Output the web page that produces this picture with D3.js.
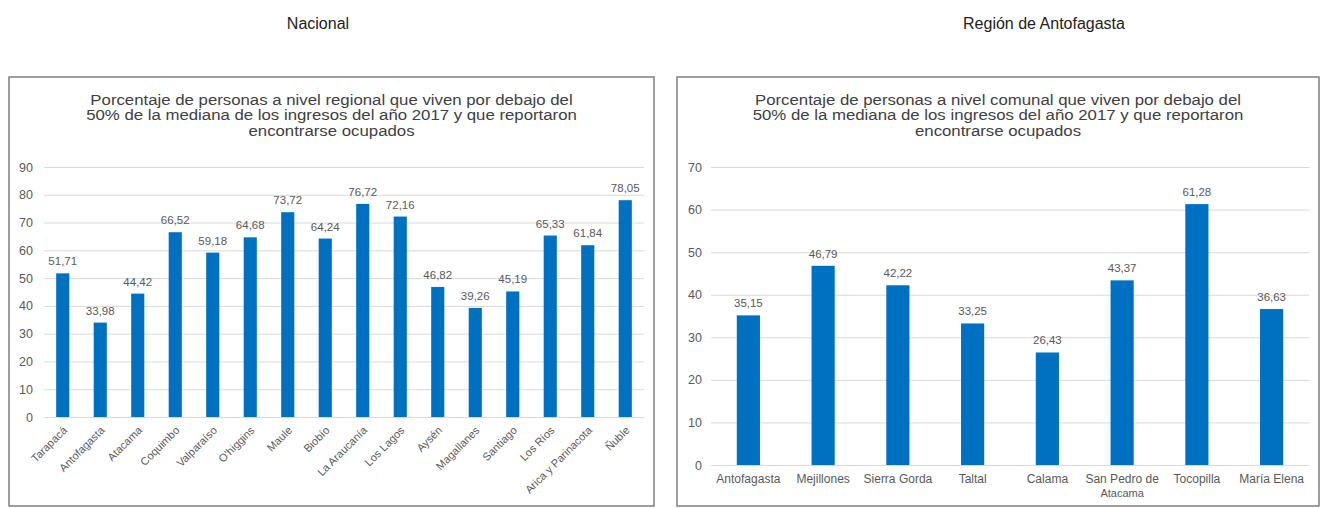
<!DOCTYPE html>
<html>
<head>
<meta charset="utf-8">
<script src="https://cdn.jsdelivr.net/npm/d3@7"></script>
<style>
  body { margin: 0; background: #fff; font-family: "Liberation Sans", Arial, sans-serif; }
  svg { display: block; }
</style>
</head>
<body>
<svg id="chart" width="1322" height="508"></svg>
<script>
// ---- Data ----
const regions = ["Tarapacá","Antofagasta","Atacama","Coquimbo","Valparaíso","O'higgins","Maule","Biobío","La Araucanía","Los Lagos","Aysén","Magallanes","Santiago","Los Ríos","Arica y Parinacota","Ñuble"];
const regionValues = [51.71,33.98,44.42,66.52,59.18,64.68,73.72,64.24,76.72,72.16,46.82,39.26,45.19,65.33,61.84,78.05];
const regionTicks = [0,10,20,30,40,50,60,70,80,90];

const comunas = ["Antofagasta","Mejillones","Sierra Gorda","Taltal","Calama","San Pedro de Atacama","Tocopilla","María Elena"];
const comunaValues = [35.15,46.79,42.22,33.25,26.43,43.37,61.28,36.63];
const comunaTicks = [0,10,20,30,40,50,60,70];

const headings = ["Nacional","Región de Antofagasta"];
const titleRegional = ["Porcentaje de personas a nivel regional que viven por debajo del","50% de la mediana de los ingresos del año 2017 y que reportaron","encontrarse ocupados"];
const titleComunal = ["Porcentaje de personas a nivel comunal que viven por debajo del","50% de la mediana de los ingresos del año 2017 y que reportaron","encontrarse ocupados"];

// ---- Drawing ----
const svg = d3.select("#chart");
const fmt = v => v.toFixed(2).replace(".", ",");
const BAR = "#0070C0", GRID = "#d9d9d9", TXT = "#595959";

svg.append("text").attr("x", 318).attr("y", 29).attr("text-anchor","middle")
  .attr("font-size", 16).attr("fill", "#222").text(headings[0]);
svg.append("text").attr("x", 1044).attr("y", 29).attr("text-anchor","middle")
  .attr("font-size", 16).attr("fill", "#222").text(headings[1]);

function panel(cfg) {
  const g = svg.append("g");
  g.append("rect").attr("x", cfg.box[0]).attr("y", cfg.box[1])
    .attr("width", cfg.box[2]).attr("height", cfg.box[3])
    .attr("fill", "#fff").attr("stroke", "#7f7f7f").attr("stroke-width", 1.5);

  const tcx = cfg.box[0] + cfg.box[2] / 2;
  const tg = g.append("g").attr("transform", `translate(${tcx},0) scale(1.12,1)`);
  cfg.title.forEach((t, i) => {
    tg.append("text").attr("x", 0).attr("y", 105 + i * 15.5).attr("text-anchor", "middle")
      .attr("font-size", 15).attr("fill", "#404040").text(t);
  });

  const x = d3.scaleBand().domain(cfg.cats).range(cfg.xr).paddingInner(cfg.pad).paddingOuter(cfg.pad / 2);
  const y = d3.scaleLinear().domain([0, d3.max(cfg.ticks)]).range(cfg.yr);

  const yAxis = d3.axisLeft(y).tickValues(cfg.ticks).tickSize(-(cfg.xr[1] - cfg.xr[0])).tickPadding(cfg.tickPad);
  const ya = g.append("g").attr("transform", `translate(${cfg.xr[0]},0)`).call(yAxis);
  ya.select(".domain").remove();
  ya.selectAll(".tick line").attr("stroke", GRID).attr("stroke-width", 1);
  ya.selectAll(".tick text").attr("fill", TXT).attr("font-size", 12.5).attr("font-family", "Liberation Sans, Arial, sans-serif");

  g.selectAll(".bar").data(cfg.vals).enter().append("rect")
    .attr("x", (d, i) => x(cfg.cats[i]))
    .attr("y", d => y(d))
    .attr("width", x.bandwidth())
    .attr("height", d => y(0) - y(d))
    .attr("fill", BAR);

  g.selectAll(".lbl").data(cfg.vals).enter().append("text")
    .attr("x", (d, i) => x(cfg.cats[i]) + x.bandwidth() / 2)
    .attr("y", d => y(d) - 8)
    .attr("text-anchor", "middle").attr("font-size", 11.5).attr("fill", TXT)
    .text(fmt);

  const xAxis = d3.axisBottom(x).tickSize(0).tickPadding(0);
  const xa = g.append("g").attr("transform", `translate(0,${cfg.yr[0]})`).call(xAxis);
  xa.select(".domain").attr("stroke", GRID);
  xa.selectAll(".tick text").attr("fill", TXT).attr("font-family", "Liberation Sans, Arial, sans-serif");
  cfg.xLabel(xa);
}

panel({
  box: [9, 77, 645, 429],
  title: titleRegional,
  cats: regions, vals: regionValues, ticks: regionTicks,
  xr: [44, 644], yr: [417, 167], pad: 0.65, tickPad: 11,
  xLabel: xa => {
    xa.selectAll(".tick text")
      .attr("font-size", 11)
      .attr("text-anchor", "end")
      .attr("dy", 0)
      .attr("transform", "translate(5,14) rotate(-45)");
  }
});

panel({
  box: [677, 77, 642, 429],
  title: titleComunal,
  cats: comunas, vals: comunaValues, ticks: comunaTicks,
  xr: [711, 1309], yr: [465, 167], pad: 0.69, tickPad: 9,
  xLabel: xa => {
    xa.selectAll(".tick text")
      .attr("font-size", 12)
      .attr("y", 18)
      .attr("dy", 0)
      .each(function(d) {
        const t = d3.select(this);
        if (d === "San Pedro de Atacama") {
          t.text(null);
          t.append("tspan").attr("x", 0).attr("y", 18).text("San Pedro de");
          t.append("tspan").attr("x", 0).attr("y", 32).attr("font-size", 11).text("Atacama");
        }
      });
  }
});
</script>
</body>
</html>
